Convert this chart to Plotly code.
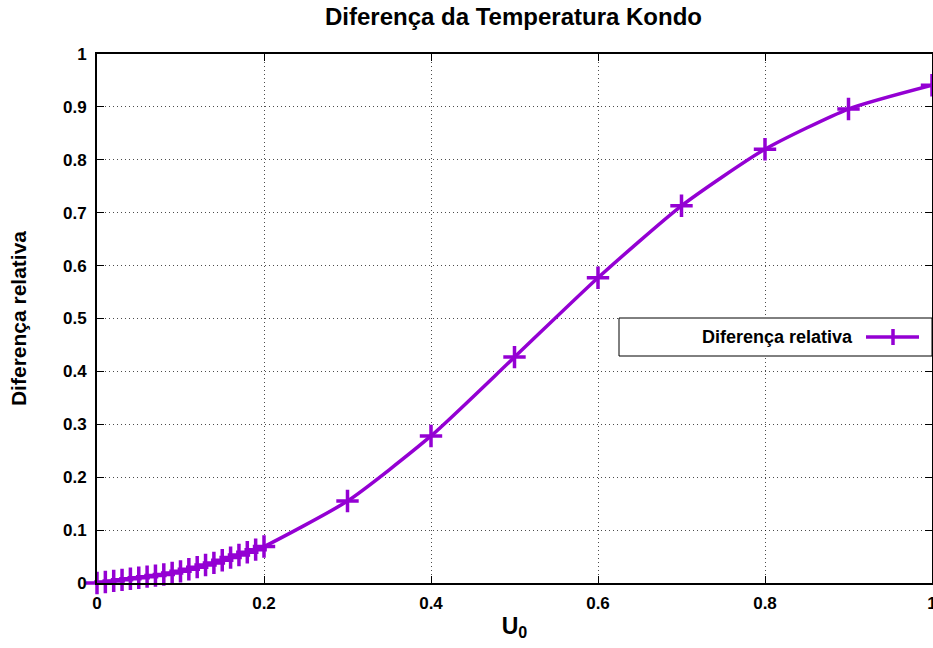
import plotly.graph_objects as go

# Data
u0 = [0.00, 0.01, 0.02, 0.03, 0.04, 0.05, 0.06, 0.07, 0.08, 0.09, 0.10,
      0.11, 0.12, 0.13, 0.14, 0.15, 0.16, 0.17, 0.18, 0.19, 0.20,
      0.3, 0.4, 0.5, 0.6, 0.7, 0.8, 0.9, 1.0]
diff_rel = [0.000, 0.002, 0.004, 0.006, 0.008, 0.010, 0.012, 0.014, 0.016, 0.019, 0.022,
            0.026, 0.030, 0.034, 0.038, 0.043, 0.048, 0.053, 0.058, 0.063, 0.069,
            0.155, 0.278, 0.427, 0.577, 0.713, 0.820, 0.896, 0.941]

x_ticks = [0, 0.2, 0.4, 0.6, 0.8, 1.0]
x_ticklabels = ["0", "0.2", "0.4", "0.6", "0.8", "1"]
y_ticks = [0, 0.1, 0.2, 0.3, 0.4, 0.5, 0.6, 0.7, 0.8, 0.9, 1.0]
y_ticklabels = ["0", "0.1", "0.2", "0.3", "0.4", "0.5", "0.6", "0.7", "0.8", "0.9", "1"]

series_name = "Diferença relativa"
color = "#9400D3"
FONT = "Liberation Sans"

W, H = 933, 648
L, R, T, B = 97, 1, 54, 65

fig = go.Figure()
fig.add_trace(go.Scatter(
    x=u0, y=diff_rel, mode="lines+markers", name=series_name,
    line=dict(color=color, width=3.5, shape="spline", smoothing=0.6),
    marker=dict(symbol="cross-thin", size=16, line=dict(color=color, width=3.5)),
    cliponaxis=False, showlegend=False,
))

axis_common = dict(
    showline=True, linecolor="black", linewidth=2, mirror="ticks",
    ticks="inside", ticklen=7, tickcolor="black", tickwidth=1,
    showgrid=True, gridcolor="rgba(0,0,0,0.7)", gridwidth=1, griddash="1px,3px",
    zeroline=False, fixedrange=True, ticklabeloverflow="allow",
    tickfont=dict(family=FONT, size=17, color="black", weight="bold"),
)

fig.update_layout(
    width=W, height=H,
    margin=dict(l=L, r=R, t=T, b=B, autoexpand=False),
    paper_bgcolor="white", plot_bgcolor="white",
    title=dict(text="Diferença da Temperatura Kondo", x=(305 + 722) / 2 / W, xanchor="center",
               y=1 - 17 / H, yanchor="middle",
               font=dict(family=FONT, size=24, color="black", weight="bold")),
    xaxis=dict(range=[0, 1], tickvals=x_ticks, ticktext=x_ticklabels, ticklabelstandoff=4,
               title=dict(text="U<sub>0</sub>", standoff=5,
                          font=dict(family=FONT, size=23, color="black", weight="bold")),
               **axis_common),
    yaxis=dict(range=[0, 1], tickvals=y_ticks, ticktext=y_ticklabels, ticklabelstandoff=5,
               title=dict(text="Diferença relativa", standoff=31,
                          font=dict(family=FONT, size=21, color="black", weight="bold")),
               **axis_common),
)

# custom gnuplot-style legend (text left, sample right)
def px(xp):
    return (xp - L) / (W - L - R)

def py(yp):
    return (H - B - yp) / (H - T - B)

fig.add_shape(type="rect", xref="paper", yref="paper",
              x0=px(619), x1=px(932), y0=py(356), y1=py(318),
              line=dict(color="black", width=1), fillcolor="white", layer="above")
fig.add_annotation(xref="paper", yref="paper", x=px(855), y=py(337),
                   xanchor="right", yanchor="middle", showarrow=False,
                   text=series_name,
                   font=dict(family=FONT, size=18, color="black", weight="bold"))
fig.add_shape(type="line", xref="paper", yref="paper",
              x0=px(866), x1=px(919), y0=py(337), y1=py(337),
              line=dict(color=color, width=3.5), layer="above")
fig.add_shape(type="line", xref="paper", yref="paper",
              x0=px(893), x1=px(893), y0=py(345), y1=py(329),
              line=dict(color=color, width=3.5), layer="above")

fig.write_html("out.html")
